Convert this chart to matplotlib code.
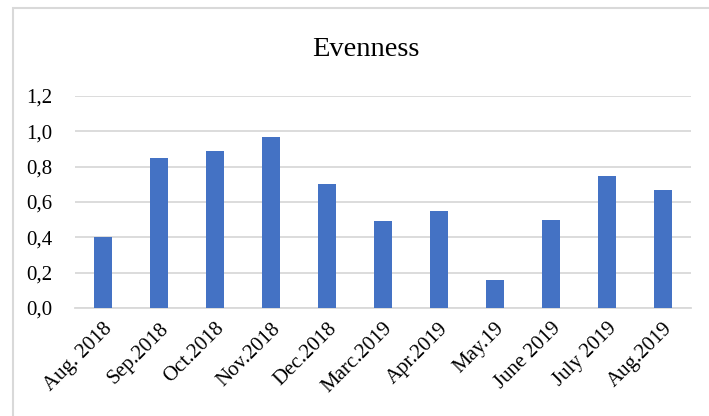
import matplotlib.pyplot as plt
from matplotlib.patches import Rectangle
from matplotlib.ticker import FuncFormatter

months = ['Aug. 2018', 'Sep.2018', 'Oct.2018', 'Nov.2018', 'Dec.2018',
          'Marc.2019', 'Apr.2019', 'May.19', 'June 2019', 'July 2019', 'Aug.2019']
evenness = [0.40, 0.85, 0.89, 0.97, 0.70, 0.49, 0.55, 0.16, 0.50, 0.75, 0.67]

plt.rcParams['font.family'] = ['Liberation Serif', 'DejaVu Serif']

fig = plt.figure(figsize=(7.09, 4.16), dpi=100)
ax = fig.add_axes([75 / 709, 108 / 416, 616 / 709, 212 / 416])

x = range(len(months))
ax.bar(x, evenness, width=0.32, color='#4472c4', zorder=3)

ax.set_ylim(0, 1.2)
ax.set_xlim(-0.5, len(months) - 0.5)
ax.set_yticks([0, 0.2, 0.4, 0.6, 0.8, 1.0, 1.2])
ax.yaxis.set_major_formatter(FuncFormatter(lambda v, p: f"{v:.1f}".replace('.', ',')))
ax.grid(axis='y', color='#d9d9d9', linewidth=1.3, zorder=0)
ax.set_xticks(list(x))
ax.set_xticklabels(months, rotation=45, ha='right', rotation_mode='anchor')
ax.tick_params(axis='both', length=0, labelsize=15, colors='black')
ax.tick_params(axis='x', pad=8)
ax.tick_params(axis='y', pad=16)
for s in ['top', 'right', 'left']:
    ax.spines[s].set_visible(False)
ax.spines['bottom'].set_color('#d9d9d9')
ax.spines['bottom'].set_linewidth(1.3)

fig.text(366 / 709, 1 - 56 / 416, 'Evenness', ha='center', va='baseline', fontsize=20.5)

# chart area border (Excel style)
fig.patches.append(Rectangle((13 / 709, -0.1), 1.2, 1 - 8 / 416 + 0.1,
                             transform=fig.transFigure, fill=False,
                             edgecolor='#d9d9d9', linewidth=1.5))

fig.savefig('out.png', dpi=100)
